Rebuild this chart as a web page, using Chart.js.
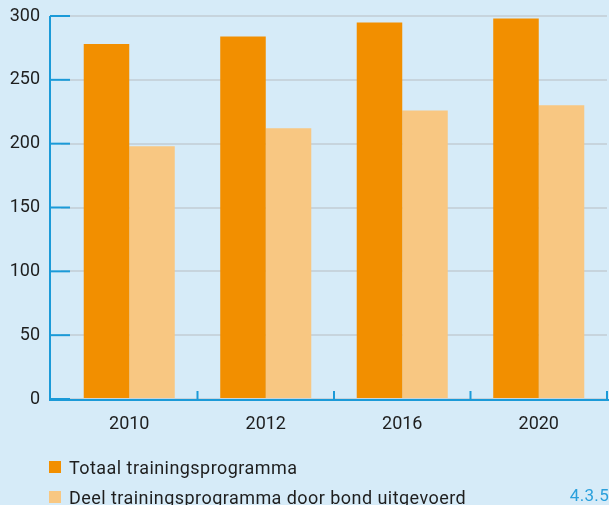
<!DOCTYPE html>
<html>
<head>
<meta charset="utf-8">
<script src="https://cdn.jsdelivr.net/npm/chart.js@4/dist/chart.umd.min.js"></script>
<style>
  html, body { margin: 0; padding: 0; background: #d6ebf8; }
  #wrap { position: relative; width: 609px; height: 505px; overflow: hidden; }
  #legend { position: absolute; left: 49px; top: 452px; font-family: Roboto, sans-serif; font-size: 18px; letter-spacing: 0.45px; color: #1e1e1e; }
  .item { display: flex; align-items: center; height: 30px; }
  .box { width: 12px; height: 12px; margin-right: 8px; }
  #code { position: absolute; right: 0; top: 485px; font-family: Roboto, sans-serif; font-size: 17px; letter-spacing: 0.3px; color: #2aa0dc; }
</style>
</head>
<body>
<div id="wrap">
  <canvas id="chart" width="609" height="505"></canvas>
  <div id="legend"></div>
  <div id="code">4.3.5</div>
</div>
<script>
const years = ['2010', '2012', '2016', '2020'];
const totaal = [278, 284, 295, 298];
const deel = [198, 212, 226, 230];
const yTicks = [0, 50, 100, 150, 200, 250, 300];

const axisBlue = '#1b9ad8';

// eigen assen: blauwe lijnen en streepjes zoals in het origineel
const axisLines = {
  id: 'axisLines',
  afterDatasetsDraw(chart) {
    const ctx = chart.ctx;
    const x = chart.scales.x, y = chart.scales.y;
    const bottom = y.getPixelForValue(0);
    const top = y.getPixelForValue(300);
    const step = x.getPixelForValue(1) - x.getPixelForValue(0);
    ctx.save();
    ctx.strokeStyle = axisBlue;
    ctx.lineWidth = 2;
    ctx.beginPath();
    ctx.moveTo(50, top);
    ctx.lineTo(50, bottom + 1);
    ctx.lineTo(609, bottom + 1);
    ctx.stroke();
    yTicks.forEach(v => {
      const py = y.getPixelForValue(v);
      ctx.beginPath();
      ctx.moveTo(50, py);
      ctx.lineTo(70, py);
      ctx.stroke();
    });
    for (let i = 0; i < years.length; i++) {
      const bx = x.getPixelForValue(i) + step / 2;
      ctx.beginPath();
      ctx.moveTo(bx, bottom);
      ctx.lineTo(bx, bottom - 8);
      ctx.stroke();
    }
    ctx.restore();
  }
};

const chart = new Chart(document.getElementById('chart'), {
  type: 'bar',
  data: {
    labels: years,
    datasets: [{
      label: 'Totaal trainingsprogramma',
      data: totaal,
      backgroundColor: '#f28f00'
    }, {
      label: 'Deel trainingsprogramma door bond uitgevoerd',
      data: deel,
      backgroundColor: '#f8c782'
    }]
  },
  options: {
    responsive: false,
    animation: false,
    layout: { padding: { top: 16, right: 2, left: 0, bottom: 0 } },
    datasets: { bar: { barPercentage: 1, categoryPercentage: 0.667 } },
    plugins: { legend: { display: false }, tooltip: { enabled: false } },
    scales: {
      x: {
        grid: { display: false, drawTicks: false },
        border: { display: false },
        ticks: { color: '#1e1e1e', font: { family: 'Roboto', size: 18 }, padding: 15 },
        afterFit(s) { s.height = 106; s.paddingLeft = 0; s.paddingRight = 0; }
      },
      y: {
        min: 0, max: 300,
        afterBuildTicks(s) { s.ticks = yTicks.map(v => ({ value: v })); },
        grid: { color: '#c7d4dd', lineWidth: 2, drawTicks: false },
        border: { display: false },
        ticks: { color: '#1e1e1e', font: { family: 'Roboto', size: 18 }, padding: 21 },
        afterFit(s) { s.width = 61; s.paddingTop = 0; s.paddingBottom = 0; }
      }
    }
  },
  plugins: [axisLines]
});

const legend = document.getElementById('legend');
chart.data.datasets.forEach(ds => {
  const row = document.createElement('div');
  row.className = 'item';
  row.innerHTML = '<span class="box" style="background:' + ds.backgroundColor + '"></span><span>' + ds.label + '</span>';
  legend.appendChild(row);
});
</script>
</body>
</html>
